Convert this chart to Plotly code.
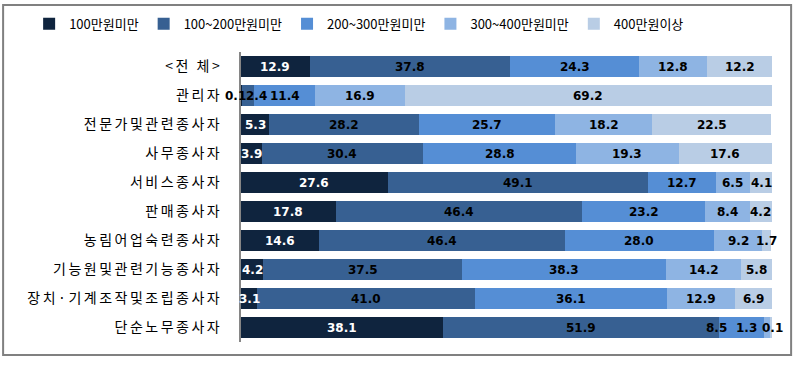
import plotly.graph_objects as go

categories = ["<전 체>", "관리자", "전문가및관련종사자", "사무종사자", "서비스종사자",
              "판매종사자", "농림어업숙련종사자", "기능원및관련기능종사자",
              "장치·기계조작및조립종사자", "단순노무종사자"]
series_names = ["100만원미만", "100~200만원미만", "200~300만원미만", "300~400만원미만", "400만원이상"]

s_under100 = [12.9, 0.1, 5.3, 3.9, 27.6, 17.8, 14.6, 4.2, 3.1, 38.1]
s_100_200 = [37.8, 2.4, 28.2, 30.4, 49.1, 46.4, 46.4, 37.5, 41.0, 51.9]
s_200_300 = [24.3, 11.4, 25.7, 28.8, 12.7, 23.2, 28.0, 38.3, 36.1, 8.5]
s_300_400 = [12.8, 16.9, 18.2, 19.3, 6.5, 8.4, 9.2, 14.2, 12.9, 1.3]
s_over400 = [12.2, 69.2, 22.5, 17.6, 4.1, 4.2, 1.7, 5.8, 6.9, 0.1]

series_values = [s_under100, s_100_200, s_200_300, s_300_400, s_over400]

# styles
colors = ["#0F243E", "#376092", "#558ED5", "#8EB4E3", "#B9CDE5"]
text_colors = ["#FFFFFF", "#000000", "#000000", "#000000", "#000000"]
# pixel nudges for crowded labels: (category, series index) -> xshift
label_nudge = {
    ("관리자", 0): -6,
    ("관리자", 1): 9,
    ("단순노무종사자", 2): -25,
    ("단순노무종사자", 3): -21,
    ("단순노무종사자", 4): 1,
}
# labels sitting outside their bar use dark text
label_color_override = {("관리자", 0): "#000000"}

fig = go.Figure()
for name, vals, col in zip(series_names, series_values, colors):
    fig.add_trace(go.Bar(
        y=categories, x=vals, name=name, orientation="h",
        marker=dict(color=col, line=dict(width=0)),
        hoverinfo="x+name",
    ))

# data labels at segment midpoints (from cumulative data values)
annotations = []
cum = [0.0] * len(categories)
for si, (vals, tcol) in enumerate(zip(series_values, text_colors)):
    for ci, v in enumerate(vals):
        key = (categories[ci], si)
        annotations.append(dict(
            x=cum[ci] + v / 2, y=categories[ci], xref="x", yref="y",
            text=f"{v:.1f}", showarrow=False, xanchor="center", yanchor="middle",
            xshift=label_nudge.get(key, 0),
            font=dict(family="DejaVu Sans", size=12,
                      color=label_color_override.get(key, tcol), weight="bold"),
        ))
        cum[ci] += v

fig.update_layout(
    width=797, height=368,
    margin=dict(l=241, r=25, t=52, b=26, pad=0, autoexpand=False),
    barmode="stack", bargap=0.28,
    plot_bgcolor="white", paper_bgcolor="white",
    font=dict(family="Noto Sans CJK KR", size=13, color="#000000"),
    showlegend=True,
    legend=dict(orientation="h", xref="paper", yref="paper",
                x=-0.399, xanchor="left", y=1.097, yanchor="middle",
                font=dict(family="Noto Sans CJK KR", size=13, color="#000000"),
                traceorder="normal", itemclick=False, bgcolor="rgba(0,0,0,0)"),
    xaxis=dict(visible=False, range=[0, 100], fixedrange=True),
    yaxis=dict(autorange="reversed", showline=True, linecolor="#868686", linewidth=2,
               showgrid=False, ticks="", ticklabelstandoff=14, automargin=False,
               fixedrange=True,
               tickfont=dict(family="Noto Sans CJK KR", size=14, color="#000000")),
    annotations=annotations,
    shapes=[dict(type="rect", xref="paper", yref="paper",
                 x0=-0.448, x1=1.036, y0=-0.045, y1=1.162,
                 line=dict(color="#808080", width=2), fillcolor="rgba(0,0,0,0)", layer="below")],
)

post = """
document.body.style.margin = '0';
var gd = document.getElementById('{plot_id}');
gd.querySelectorAll('.ytick text').forEach(function(t){ t.style.letterSpacing = '2.5px'; });
"""
fig.write_html("out.html", post_script=post, config={"displayModeBar": False})
